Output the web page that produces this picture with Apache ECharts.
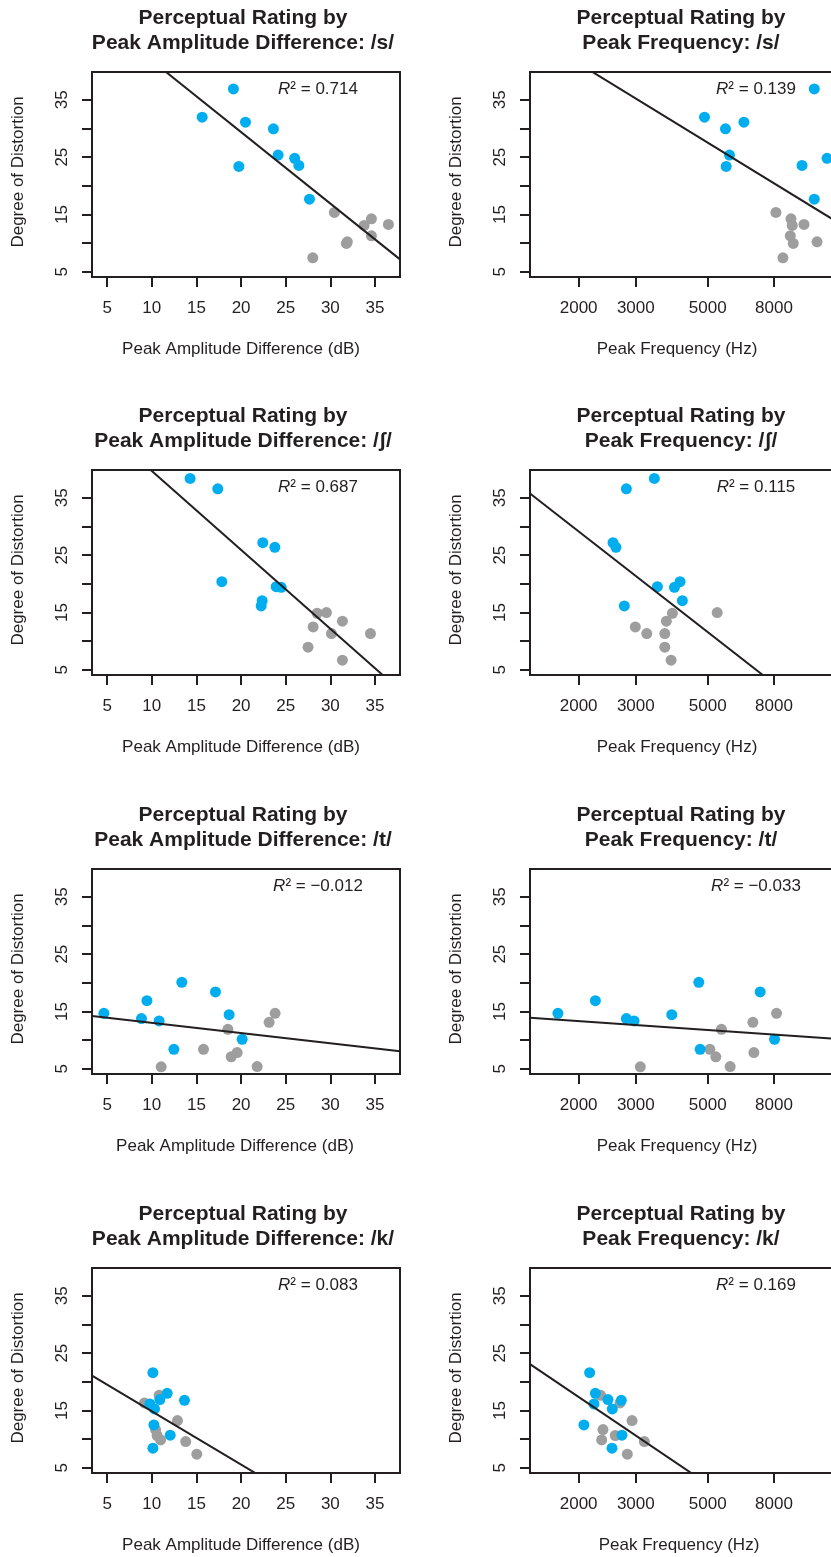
<!DOCTYPE html>
<html><head><meta charset="utf-8">
<script src="https://cdn.jsdelivr.net/npm/echarts@6/dist/echarts.min.js"></script>
<style>html,body{margin:0;padding:0;background:#fff}#c{width:831px;height:1557px}</style>
</head><body><div id="c"></div>
<script>
// ---------------- DATA ----------------
const phonemes = ['/s/', '/ʃ/', '/t/', '/k/'];

// /s/
const ratingBlueS = [36.9, 31.98, 31.1, 29.95, 25.36, 24.8, 23.56, 23.38, 17.68];
const ampBlueS    = [19.14, 15.64, 20.49, 23.62, 24.15, 26.0, 26.47, 19.75, 27.66];
const freqBlueS   = [10648, 4884, 6462, 5670, 5833, 11656, 9760, 5698, 10648];
const ratingGrayS = [15.36, 14.25, 13.09, 13.27, 11.28, 9.95, 10.23, 7.44];
const ampGrayS    = [30.45, 34.6, 33.78, 36.5, 34.6, 31.8, 31.9, 28.03];
const freqGrayS   = [8110, 9024, 9107, 9898, 8980, 9172, 10857, 8524];

// /ʃ/
const ratingBlueSh = [38.38, 36.57, 27.17, 26.36, 20.38, 19.5, 19.4, 17.07, 16.14];
const ampBlueSh    = [14.29, 17.39, 22.43, 23.78, 17.84, 23.93, 24.49, 22.36, 22.25];
const freqBlueSh   = [3422, 2806, 2552, 2606, 4108, 3497, 3947, 4175, 2765];
const ratingGraySh = [14.87, 14.98, 13.48, 12.49, 11.32, 11.32, 8.95, 6.69];
const ampGraySh    = [28.52, 29.56, 31.35, 28.07, 30.12, 34.49, 27.5, 31.35];
const freqGraySh   = [3890, 5346, 3727, 2990, 3243, 3686, 3686, 3854];

// /t/
const ratingBlueT = [14.68, 16.89, 13.76, 13.36, 20.08, 18.41, 14.45, 10.16, 8.41];
const ampBlueT    = [4.63, 9.45, 8.84, 10.82, 13.36, 17.13, 18.66, 20.12, 12.47];
const freqBlueT   = [1726, 2252, 2806, 2964, 4692, 7254, 3873, 8032, 4736];
const ratingGrayT = [14.68, 13.11, 11.9, 8.41, 7.84, 7.09, 5.35, 5.4];
const ampGrayT    = [23.81, 23.14, 18.52, 15.79, 19.56, 18.89, 11.05, 21.8];
const freqGrayT   = [8146, 6887, 5510, 5074, 6936, 5294, 3098, 5862];

// /k/
const ratingBlueK = [21.6, 18.0, 16.9, 16.78, 16.14, 15.27, 12.48, 10.69, 8.43];
const ampBlueK    = [10.12, 11.72, 10.9, 13.66, 9.78, 10.3, 10.23, 12.06, 10.12];
const freqBlueK   = [2162, 2252, 2462, 2707, 2229, 2540, 2076, 2720, 2534];
const ratingGrayK = [16.31, 17.65, 13.25, 11.68, 10.64, 9.87, 9.59, 7.38];
const ampGrayK    = [9.18, 10.82, 12.87, 10.42, 10.6, 10.98, 13.8, 15.04];
const freqGrayK   = [2682, 2338, 2921, 2377, 2594, 2355, 3188, 2825];

// fitted lines: rating = intercept + slope * x   (x = dB, or log10(Hz))
const ampFitIntercept  = [54.31, 53.44, 14.82, 24.14];
const ampFitSlope      = [-1.247, -1.376, -0.1787, -0.9287];
const freqFitIntercept = [155.88, 174.7, 26.31, 143.56];
const freqFitSlope     = [-34.7, -44.1, -3.93, -38.23];

const ampR2  = ['0.714', '0.687', '\u22120.012', '0.083'];
const freqR2 = ['0.139', '0.115', '\u22120.033', '0.169'];

// ticks
const yTicks      = [5, 10, 15, 20, 25, 30, 35];
const yTickLabels = [5, 15, 25, 35];
const ampTicks    = [5, 10, 15, 20, 25, 30, 35];
const freqTicks   = [2000, 3000, 5000, 8000];

// ---------------- LAYOUT ----------------
const FONT = "'Liberation Sans', Arial, Helvetica, sans-serif";
const INK = '#231f20';
const BLUE = '#00aeef';
const GRAY = '#9e9e9e';
const colLeft = [92, 530];
const gridW = 308, gridH = 205;
const rowTop = [72, 470, 869, 1268];
const Y_MIN = 4.1, Y_MAX = 39.85;
const AMP_MIN = 3.3, AMP_MAX = 37.8;
const FREQ_MIN = 1416, FREQ_MAX = 12600;
// horizontal nudge of x-axis titles (px to the left), per row and column
const xNameShift = [[10, 14], [10, 14], [22, 14], [10, 10]];

const blueSets = [
  [ratingBlueS, ampBlueS, freqBlueS],
  [ratingBlueSh, ampBlueSh, freqBlueSh],
  [ratingBlueT, ampBlueT, freqBlueT],
  [ratingBlueK, ampBlueK, freqBlueK]
];
const graySets = [
  [ratingGrayS, ampGrayS, freqGrayS],
  [ratingGraySh, ampGraySh, freqGraySh],
  [ratingGrayT, ampGrayT, freqGrayT],
  [ratingGrayK, ampGrayK, freqGrayK]
];

const grids = [], xAxes = [], yAxes = [], series = [], titles = [];

function zip(xs, ys) { return xs.map((x, i) => [x, ys[i]]); }

for (let r = 0; r < 4; r++) {
  for (let c = 0; c < 2; c++) {
    const idx = grids.length;
    const isFreq = c === 1;
    grids.push({
      left: colLeft[c], top: rowTop[r], width: gridW, height: gridH,
      show: true, borderColor: INK, borderWidth: 2, backgroundColor: 'transparent',
      containLabel: false, outerBoundsMode: 'none'
    });
    const axisCommon = {
      axisLine: { show: true, onZero: false, lineStyle: { color: INK, width: 2 } },
      splitLine: { show: false },
      nameLocation: 'middle'
    };
    const xNameStyle = { fontFamily: FONT, fontSize: 17, color: INK, padding: [0, xNameShift[r][c], 0, 0] };
    if (isFreq) {
      xAxes.push(Object.assign({}, axisCommon, {
        gridIndex: idx, type: 'log', logBase: 10, min: FREQ_MIN, max: FREQ_MAX,
        name: 'Peak Frequency (Hz)', nameGap: 64, nameTextStyle: xNameStyle,
        axisTick: { show: true, inside: false, length: 10, lineStyle: { color: INK, width: 2 }, customValues: freqTicks },
        axisLabel: { show: true, margin: 23, fontFamily: FONT, fontSize: 17, color: INK, customValues: freqTicks,
          formatter: v => String(Math.round(v)) },
        minorTick: { show: false }
      }));
    } else {
      xAxes.push(Object.assign({}, axisCommon, {
        gridIndex: idx, type: 'value', min: AMP_MIN, max: AMP_MAX,
        name: 'Peak Amplitude Difference (dB)', nameGap: 64, nameTextStyle: xNameStyle,
        axisTick: { show: true, inside: false, length: 10, lineStyle: { color: INK, width: 2 }, customValues: ampTicks },
        axisLabel: { show: true, margin: 23, fontFamily: FONT, fontSize: 17, color: INK, customValues: ampTicks }
      }));
    }
    yAxes.push(Object.assign({}, axisCommon, {
      gridIndex: idx, type: 'value', min: Y_MIN, max: Y_MAX,
      name: 'Degree of Distortion', nameGap: 65, nameRotate: 90,
      nameTextStyle: { fontFamily: FONT, fontSize: 17, color: INK, padding: [0, 0, 0, 5] },
      axisTick: { show: true, inside: false, length: 10, lineStyle: { color: INK, width: 2 }, customValues: yTicks },
      axisLabel: { show: true, margin: 21, rotate: 90, fontFamily: FONT, fontSize: 17, color: INK, customValues: yTickLabels }
    }));

    const b = blueSets[r], g = graySets[r];
    const xi = isFreq ? 2 : 1;
    series.push({
      type: 'scatter', xAxisIndex: idx, yAxisIndex: idx, symbol: 'circle', symbolSize: 11,
      itemStyle: { color: GRAY, opacity: 1 }, data: zip(g[xi], g[0]), z: 2, silent: true
    });
    series.push({
      type: 'scatter', xAxisIndex: idx, yAxisIndex: idx, symbol: 'circle', symbolSize: 11,
      itemStyle: { color: BLUE, opacity: 1 }, data: zip(b[xi], b[0]), z: 3, silent: true
    });
    let lineData;
    if (isFreq) {
      const a = freqFitIntercept[r], s = freqFitSlope[r];
      lineData = [FREQ_MIN, FREQ_MAX].map(x => [x, a + s * Math.log10(x)]);
    } else {
      const a = ampFitIntercept[r], s = ampFitSlope[r];
      lineData = [AMP_MIN, AMP_MAX].map(x => [x, a + s * x]);
    }
    series.push({
      type: 'line', xAxisIndex: idx, yAxisIndex: idx, data: lineData, symbol: 'none',
      lineStyle: { color: INK, width: 2 }, clip: true, z: 4, silent: true, animation: false
    });

    // titles
    const tText = 'Perceptual Rating by\n' + (isFreq ? 'Peak Frequency: ' : 'Peak Amplitude Difference: ') + phonemes[r];
    titles.push({
      text: tText, left: colLeft[c] + 151, top: rowTop[r] - 66.5, textAlign: 'center', padding: 0,
      textStyle: { fontFamily: FONT, fontSize: 21, fontWeight: 'bold', color: INK, lineHeight: 25 }
    });
    const r2 = isFreq ? freqR2[r] : ampR2[r];
    titles.push({
      text: '{i|R}² = ' + r2, left: colLeft[c] + 226, top: rowTop[r] + 7, textAlign: 'center', padding: 0,
      textStyle: { fontFamily: FONT, fontSize: 17, fontWeight: 'normal', color: INK, lineHeight: 20,
        rich: { i: { fontFamily: FONT, fontSize: 17, fontStyle: 'italic', color: INK } } }
    });
  }
}

const chart = echarts.init(document.getElementById('c'), null, { renderer: 'canvas' });
chart.setOption({
  animation: false,
  backgroundColor: '#fff',
  title: titles,
  grid: grids,
  xAxis: xAxes,
  yAxis: yAxes,
  series: series
});
</script>
</body></html>
